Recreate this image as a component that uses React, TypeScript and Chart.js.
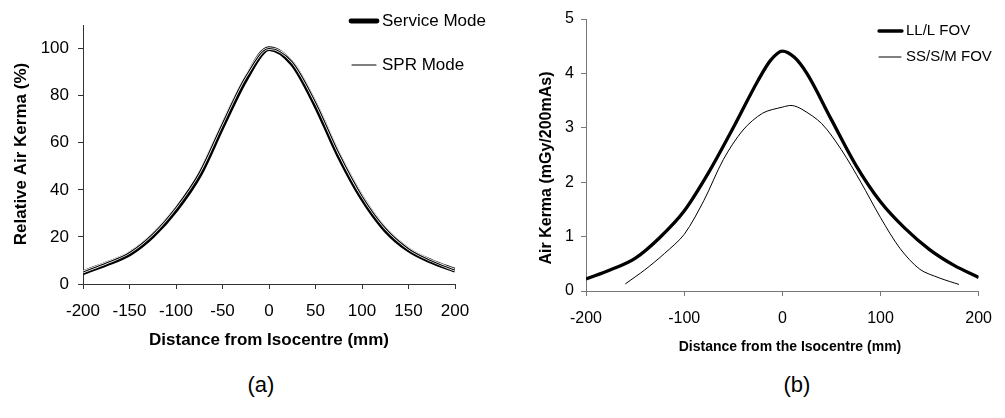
import React, { useEffect, useRef } from "react";
import { Chart, registerables } from "chart.js";

Chart.register(...registerables);

const FONT = '"Liberation Sans", Arial, Helvetica, sans-serif';

// ---- (a) Relative air kerma profile ----
const relDistance = [-200, -175, -150, -125, -100, -75, -50, -25, 0, 25, 50, 75, 100, 125, 150, 175, 200];
const serviceMode = [4.8, 8.5, 12.8, 20.5, 31.5, 46, 67, 87, 100, 93.5, 76, 54.5, 36.5, 23, 14.5, 9.5, 5.8];
const sprMode = [5.1, 8.9, 13.4, 21.3, 32.6, 47.3, 68.3, 88.2, 100, 94.3, 77.2, 55.7, 37.4, 23.8, 15.0, 9.8, 5.9];
const relXTicks = [-200, -150, -100, -50, 0, 50, 100, 150, 200];
const relYTicks = [0, 20, 40, 60, 80, 100];

// ---- (b) Absolute air kerma per 200 mAs ----
const llDistance = [-200, -175, -150, -125, -100, -75, -50, -25, -12, 0, 12, 25, 50, 75, 100, 125, 150, 175, 200];
const llFov = [0.22, 0.39, 0.6, 0.98, 1.47, 2.18, 3.0, 3.86, 4.24, 4.41, 4.3, 4.0, 3.15, 2.31, 1.64, 1.15, 0.76, 0.47, 0.25];
const ssDistance = [-160, -140, -120, -100, -80, -60, -40, -20, 0, 10, 20, 40, 60, 80, 100, 120, 140, 160, 180];
const ssFov = [0.13, 0.39, 0.69, 1.04, 1.66, 2.42, 2.96, 3.27, 3.38, 3.41, 3.34, 3.08, 2.6, 2.0, 1.35, 0.78, 0.4, 0.24, 0.12];
const kermaXTicks = [-200, -100, 0, 100, 200];
const kermaYTicks = [0, 1, 2, 3, 4, 5];

const points = (xs: number[], ys: number[]) => xs.map((x, i) => ({ x, y: ys[i] }));

// Draws axis titles and an inline legend at fixed spots on the canvas
const annotate = {
  id: "annotate",
  afterDraw(chart: any, _args: any, opts: any) {
    const ctx = chart.ctx as CanvasRenderingContext2D;
    ctx.save();
    ctx.fillStyle = "#000";
    ctx.textBaseline = "middle";
    for (const t of opts.titles || []) {
      ctx.save();
      ctx.translate(t.x, t.y);
      if (t.rotate) ctx.rotate(-Math.PI / 2);
      ctx.font = `bold ${t.size}px ${FONT}`;
      ctx.textAlign = "center";
      ctx.fillText(t.text, 0, 0);
      ctx.restore();
    }
    const lg = opts.legend;
    if (lg) {
      let k = 0;
      chart.data.datasets.forEach((ds: any) => {
        if (!ds.label) return;
        const row = lg.rows[k++];
        ctx.beginPath();
        ctx.strokeStyle = ds.borderColor;
        ctx.lineWidth = ds.borderWidth;
        ctx.lineCap = "round";
        ctx.moveTo(row.x0, row.y);
        ctx.lineTo(row.x1, row.y);
        ctx.stroke();
        ctx.font = `${lg.size}px ${FONT}`;
        ctx.textAlign = "left";
        ctx.fillText(ds.label, lg.textX, row.y);
      });
    }
    ctx.restore();
  },
};

function axis(
  min: number,
  max: number,
  ticks: number[],
  size: number,
  fontSize: number,
  pad: number,
  color: string,
  horizontal: boolean
) {
  return {
    type: "linear",
    min,
    max,
    afterBuildTicks: (s: any) => {
      s.ticks = ticks.map((value) => ({ value }));
    },
    afterFit: (s: any) => {
      if (horizontal) s.height = size;
      else s.width = size;
    },
    ticks: {
      color: "#000",
      font: { family: FONT, size: fontSize },
      padding: pad,
      maxRotation: 0,
      autoSkip: false,
    },
    grid: {
      display: true,
      drawOnChartArea: false,
      drawTicks: true,
      tickLength: 5,
      color,
      lineWidth: 1,
    },
    border: { display: true, color, width: 1 },
    title: { display: false },
  };
}

function Plot({ config, left, width, height }: { config: () => any; left: number; width: number; height: number }) {
  const ref = useRef<HTMLCanvasElement | null>(null);
  useEffect(() => {
    const chart = new Chart(ref.current as HTMLCanvasElement, config());
    return () => chart.destroy();
  }, []);
  return (
    <canvas
      ref={ref}
      width={width}
      height={height}
      style={{ position: "absolute", left, top: 0, width, height }}
    />
  );
}

const relativeConfig = () => ({
  type: "line",
  data: {
    datasets: [
      {
        label: "SPR Mode",
        data: points(relDistance, sprMode),
        borderColor: "#000",
        borderWidth: 1.1,
        pointRadius: 0,
        cubicInterpolationMode: "monotone",
      },
      {
        label: "",
        data: points(relDistance, sprMode),
        borderColor: "#fff",
        borderWidth: 2.6,
        pointRadius: 0,
        cubicInterpolationMode: "monotone",
      },
      {
        label: "Service Mode",
        data: points(relDistance, serviceMode),
        borderColor: "#000",
        borderWidth: 4.8,
        pointRadius: 0,
        cubicInterpolationMode: "monotone",
      },
    ],
  },
  options: {
    responsive: false,
    animation: false,
    devicePixelRatio: 1,
    layout: { padding: { left: 0, top: 25, right: 45, bottom: 0 } },
    scales: {
      x: axis(-200, 200, relXTicks, 76, 17, 12, "#333", true),
      y: axis(0, 110, relYTicks, 83, 17, 9, "#333", false),
    },
    plugins: {
      legend: { display: false },
      tooltip: { enabled: false },
      annotate: {
        titles: [
          { text: "Relative Air Kerma (%)", x: 21, y: 154, size: 17, rotate: true },
          { text: "Distance from Isocentre (mm)", x: 269, y: 340, size: 17 },
        ],
        legend: {
          size: 17,
          textX: 382,
          rows: [
            { x0: 352, x1: 376, y: 65 },
            { x0: 351, x1: 377, y: 21 },
          ],
        },
      },
    },
  },
  plugins: [annotate],
});

const kermaConfig = () => ({
  type: "line",
  data: {
    datasets: [
      {
        label: "LL/L FOV",
        data: points(llDistance, llFov),
        borderColor: "#000",
        borderWidth: 3.3,
        pointRadius: 0,
        cubicInterpolationMode: "monotone",
      },
      {
        label: "SS/S/M FOV",
        data: points(ssDistance, ssFov),
        borderColor: "#000",
        borderWidth: 1,
        pointRadius: 0,
        tension: 0.3,
      },
    ],
  },
  options: {
    responsive: false,
    animation: false,
    devicePixelRatio: 1,
    layout: { padding: { left: 0, top: 19, right: 15, bottom: 0 } },
    scales: {
      x: axis(-200, 200, kermaXTicks, 69, 16, 13, "#777", true),
      y: axis(0, 5, kermaYTicks, 86, 16, 7, "#777", false),
    },
    plugins: {
      legend: { display: false },
      tooltip: { enabled: false },
      annotate: {
        titles: [
          { text: "Air Kerma (mGy/200mAs)", x: 47, y: 168, size: 16, rotate: true },
          { text: "Distance from the Isocentre (mm)", x: 290, y: 347, size: 14 },
        ],
        legend: {
          size: 15,
          textX: 406,
          rows: [
            { x0: 379, x1: 402, y: 31 },
            { x0: 379, x1: 401, y: 57 },
          ],
        },
      },
    },
  },
  plugins: [annotate],
});

const caption: React.CSSProperties = {
  position: "absolute",
  top: 372,
  width: 60,
  textAlign: "center",
  fontFamily: FONT,
  fontSize: 22,
  lineHeight: "26px",
  color: "#000",
};

export default function App() {
  return (
    <div
      style={{
        position: "absolute",
        left: 0,
        top: 0,
        width: 1005,
        height: 418,
        background: "#fff",
        overflow: "hidden",
      }}
    >
      <Plot config={relativeConfig} left={0} width={500} height={360} />
      <Plot config={kermaConfig} left={500} width={505} height={360} />
      <div style={{ ...caption, left: 231 }}>(a)</div>
      <div style={{ ...caption, left: 767 }}>(b)</div>
    </div>
  );
}
